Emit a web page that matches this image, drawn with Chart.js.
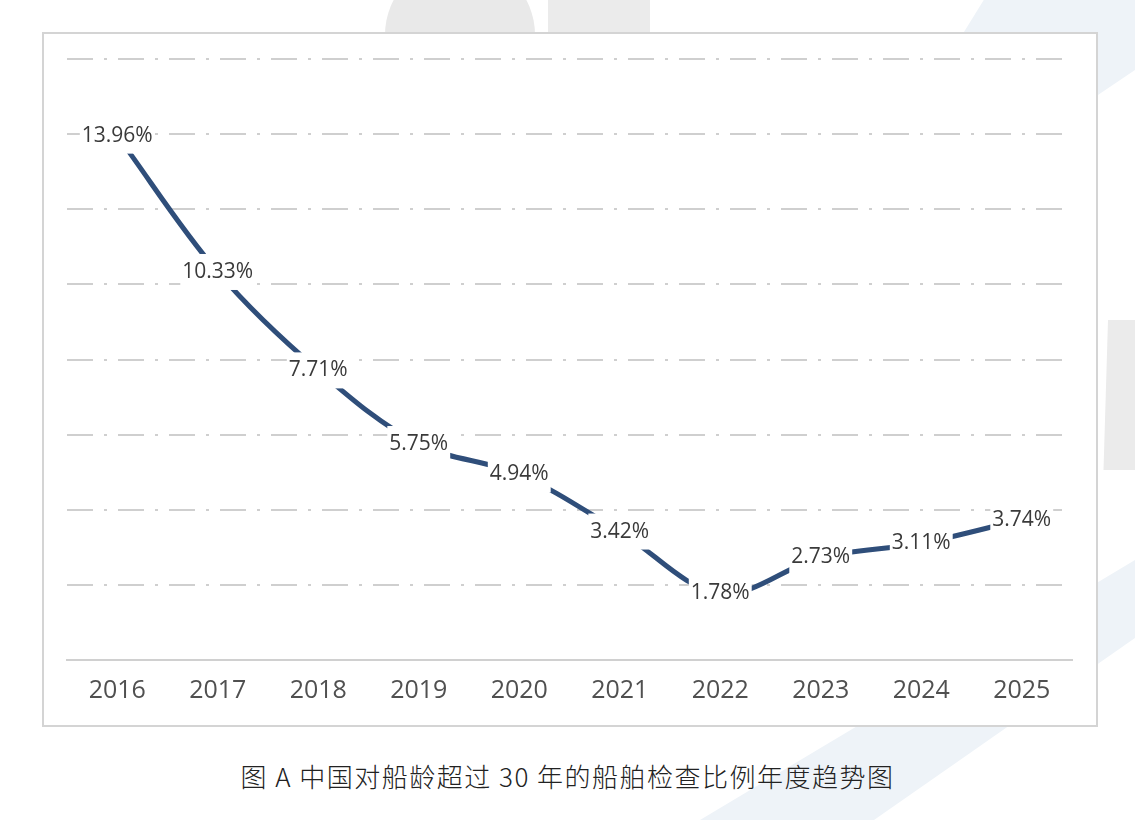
<!DOCTYPE html>
<html>
<head>
<meta charset="utf-8">
<script src="https://cdn.jsdelivr.net/npm/chart.js@4/dist/chart.umd.min.js"></script>
<style>
  html, body { margin: 0; padding: 0; }
  body { width: 1135px; height: 820px; position: relative; overflow: hidden; background: #fff; }
  .bg { position: absolute; }
  .bg1 { left: 385px; top: -40px; width: 150px; height: 150px; border-radius: 50%; background: #e9e9e9; }
  .bg2 { left: 548px; top: 0; width: 102px; height: 80px; background: #ebebeb; }
  .bg3 { left: 860px; top: 0; width: 275px; height: 200px; background: #eef3f8; clip-path: polygon(45% 0, 100% 0, 100% 35%, 30% 100%, 0 100%); }
  .bg4 { left: 1090px; top: 320px; width: 45px; height: 150px; background: #ebebeb; clip-path: polygon(40% 0, 100% 0, 100% 100%, 30% 100%); }
  .bg5 { left: 700px; top: 560px; width: 435px; height: 260px; background: #eef3f8; clip-path: polygon(100% 0, 100% 30%, 40% 100%, 0 100%); }
  #box { position: absolute; left: 42px; top: 32px; width: 1056px; height: 695px; box-sizing: border-box;
         border: 2px solid #d4d4d4; background: #fff; }
  #caption { position: absolute; left: 0; width: 1135px; top: 757px; text-align: center;
             font-family: "Noto Sans CJK SC", sans-serif; font-size: 26px; letter-spacing: 1.5px;
             font-weight: 300; color: #222; }
</style>
</head>
<body>
<div class="bg bg1"></div>
<div class="bg bg2"></div>
<div class="bg bg3"></div>
<div class="bg bg4"></div>
<div class="bg bg5"></div>
<div id="box"><canvas id="trendChart" width="1052" height="691"></canvas></div>
<div id="caption">图 A 中国对船龄超过 30 年的船舶检查比例年度趋势图</div>
<script>
const years = ['2016', '2017', '2018', '2019', '2020', '2021', '2022', '2023', '2024', '2025'];
const ratios = [13.96, 10.33, 7.71, 5.75, 4.94, 3.42, 1.78, 2.73, 3.11, 3.74];
const yTicks = [0, 2, 4, 6, 8, 10, 12, 14, 16];

const lineColor = '#2f4e7a';

// draws the % labels on top of the line, with a white patch behind them
const pointLabels = {
    id: 'pointLabels',
    afterDatasetsDraw(chart) {
        const ctx = chart.ctx;
        const meta = chart.getDatasetMeta(0);
        ctx.save();
        ctx.font = '21px "Open Sans", sans-serif';
        ctx.textAlign = 'center';
        ctx.textBaseline = 'middle';
        meta.data.forEach((pt, i) => {
            const txt = ratios[i].toFixed(2) + '%';
            const w = ctx.measureText(txt).width;
            ctx.fillStyle = '#fff';
            ctx.fillRect(pt.x - w / 2 - 2, pt.y - 18, w + 4, 36);
            ctx.fillStyle = '#3a3a3a';
            ctx.fillText(txt, pt.x, pt.y);
        });
        ctx.restore();
    }
};

new Chart(document.getElementById('trendChart'), {
    type: 'line',
    data: {
        labels: years,
        datasets: [{
            data: ratios,
            borderColor: lineColor,
            borderWidth: 5,
            tension: 0.35,
            pointRadius: 0,
            fill: false
        }]
    },
    options: {
        responsive: false,
        animation: false,
        layout: {
            padding: { left: 23, right: 24, top: 25, bottom: 3 }
        },
        plugins: {
            legend: { display: false },
            tooltip: { enabled: false }
        },
        scales: {
            x: {
                offset: true,
                grid: { display: false, drawTicks: false },
                border: { display: true, color: '#d0d0d0', width: 2 },
                ticks: {
                    padding: 16,
                    color: '#505050',
                    font: { family: '"Open Sans", sans-serif', size: 25 }
                }
            },
            y: {
                min: yTicks[0],
                max: yTicks[yTicks.length - 1],
                afterBuildTicks: (scale) => {
                    scale.ticks = yTicks.map(v => ({ value: v }));
                },
                ticks: { display: false },
                grid: {
                    drawTicks: false,
                    lineWidth: 2,
                    color: (c) => c.tick && c.tick.value === 0 ? 'rgba(0,0,0,0)' : '#cfcfcf'
                },
                border: { display: false, dash: [26, 11, 3, 11] }
            }
        }
    },
    plugins: [pointLabels]
});
</script>
</body>
</html>
